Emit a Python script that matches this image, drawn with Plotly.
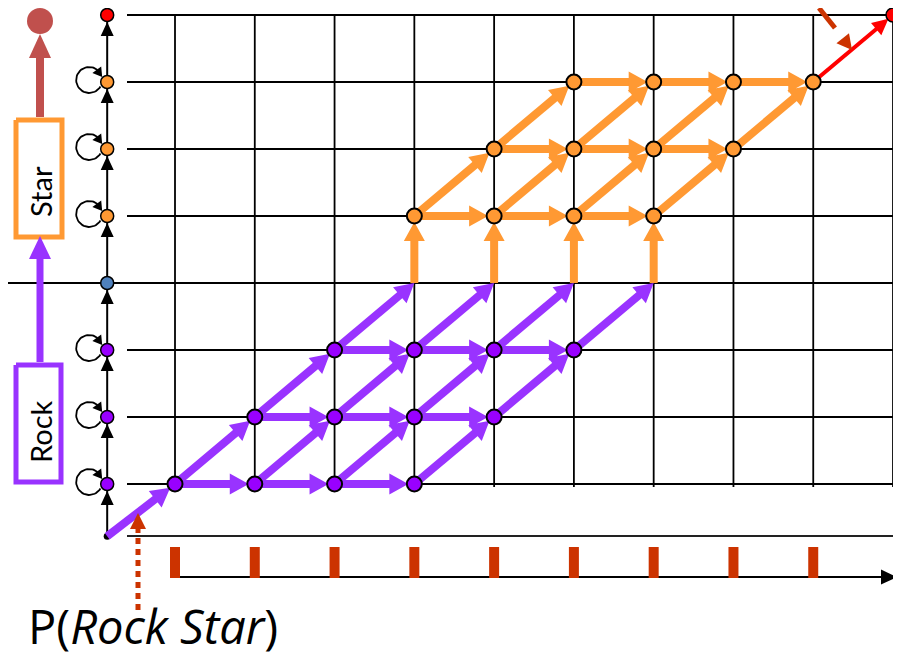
import math
import plotly.graph_objects as go

# ---------------- data ----------------
STEPS = list(range(10))            # time-step columns
STATES = list(range(8))            # state rows (3 = Rock/Star boundary, 7 = end)
AXIS_T = -0.85                     # column of the state axis
START_J = -0.78                    # start point below the first row
AXIS_NODE_KIND = ["rock", "rock", "rock", "boundary", "star", "star", "star", "end"]
LOOP_STATES = [0, 1, 2, 4, 5, 6]
ROCK_NODES = [(0, 0), (1, 0), (2, 0), (3, 0), (1, 1), (2, 1), (3, 1), (4, 1),
              (2, 2), (3, 2), (4, 2), (5, 2)]
STAR_NODES = [(3, 4), (4, 4), (5, 4), (6, 4), (4, 5), (5, 5), (6, 5), (7, 5),
              (5, 6), (6, 6), (7, 6), (8, 6)]
END_NODE = (9, 7)
ROCK_EDGES = [(AXIS_T, START_J, 0, 0),
              (0, 0, 1, 0), (1, 0, 2, 0), (2, 0, 3, 0),
              (1, 1, 2, 1), (2, 1, 3, 1), (3, 1, 4, 1),
              (2, 2, 3, 2), (3, 2, 4, 2), (4, 2, 5, 2),
              (0, 0, 1, 1), (1, 0, 2, 1), (2, 0, 3, 1), (3, 0, 4, 1),
              (1, 1, 2, 2), (2, 1, 3, 2), (3, 1, 4, 2), (4, 1, 5, 2),
              (2, 2, 3, 3), (3, 2, 4, 3), (4, 2, 5, 3), (5, 2, 6, 3)]
STAR_EDGES = [(3, 3, 3, 4), (4, 3, 4, 4), (5, 3, 5, 4), (6, 3, 6, 4),
              (3, 4, 4, 4), (4, 4, 5, 4), (5, 4, 6, 4),
              (4, 5, 5, 5), (5, 5, 6, 5), (6, 5, 7, 5),
              (5, 6, 6, 6), (6, 6, 7, 6), (7, 6, 8, 6),
              (3, 4, 4, 5), (4, 4, 5, 5), (5, 4, 6, 5), (6, 4, 7, 5),
              (4, 5, 5, 6), (5, 5, 6, 6), (6, 5, 7, 6), (7, 5, 8, 6)]
END_EDGES = [(8, 6, 9, 7)]
TICK_STEPS = list(range(9))
LABEL_ROCK = "Rock"
LABEL_STAR = "Star"
FORMULA = "P(<i>Rock Star</i>)"

# ---------------- style ----------------
PURPLE_NODE = "#9900FF"
PURPLE = "#9933FF"
ORANGE = "#FF9933"
BLUE = "#4F81BD"
RED = "#FF0000"
BROWN = "#C0504D"
RUST = "#CC3300"
KIND_COLOR = {"rock": PURPLE_NODE, "boundary": BLUE, "star": ORANGE, "end": RED}
FONT = "Lato"
FORMULA_FONT = "Open Sans"

PAGE_OFF = 8                      # default body margin of the html page
W, H = 901 - PAGE_OFF, 660 - PAGE_OFF
SX, SY = 79.78, 67.0
X0PX, Y0PX = 175.0, 484.0


def to_px(t, j):
    return X0PX + t * SX, Y0PX - j * SY


def to_data(px, py):
    return (px - X0PX) / SX, (Y0PX - py) / SY


fig = go.Figure()


def add_px_line(pts, color, width, dash=None):
    xs, ys = [], []
    for p in pts:
        if p is None:
            xs.append(None); ys.append(None)
        else:
            d = to_data(*p)
            xs.append(d[0]); ys.append(d[1])
    fig.add_trace(go.Scatter(x=xs, y=ys, mode="lines", hoverinfo="skip",
                             line=dict(color=color, width=width, dash=dash)))


class ArrowSet:
    def __init__(self, color, width):
        self.color, self.width = color, width
        self.shaft, self.head = [], []

    def add_px(self, p0, p1, standoff, hl, hw):
        x0, y0 = p0; x1, y1 = p1
        dx, dy = x1 - x0, y1 - y0
        L = math.hypot(dx, dy)
        ux, uy = dx / L, dy / L
        tx, ty = x1 - ux * standoff, y1 - uy * standoff
        bx, by = tx - ux * hl, ty - uy * hl
        nx, ny = -uy, ux
        self.shaft += [(x0, y0), (bx + ux * 3, by + uy * 3), None]
        self.head += [(tx, ty), (bx + nx * hw, by + ny * hw), (bx - nx * hw, by - ny * hw), (tx, ty), None]

    def add(self, t0, j0, t1, j1, standoff, hl, hw):
        self.add_px(to_px(t0, j0), to_px(t1, j1), standoff, hl, hw)

    def draw(self, dash=None):
        if self.shaft:
            add_px_line(self.shaft, self.color, self.width, dash)
        xs, ys = [], []
        for p in self.head:
            if p is None:
                xs.append(None); ys.append(None)
            else:
                d = to_data(*p)
                xs.append(d[0]); ys.append(d[1])
        fig.add_trace(go.Scatter(x=xs, y=ys, mode="none", fill="toself",
                                 fillcolor=self.color, hoverinfo="skip"))


# ---- grid ----
grid = []
for j in STATES:
    xl = 0 if j == 3 else 127
    grid += [(xl, to_px(0, j)[1]), (910, to_px(0, j)[1]), None]
add_px_line(grid, "black", 2)
vgrid = []
for t in STEPS:
    px = to_px(t, 0)[0]
    vgrid += [(px, to_px(0, 7)[1]), (px, to_px(0, 0)[1] + 3), None]
add_px_line(vgrid, "black", 1.8)

# ---- bottom lines & ticks ----
add_px_line([(127, 536), (895, 536)], "#222222", 2)
bottom = ArrowSet("black", 2)
bottom.add_px((to_px(0, 0)[0], 577), (897, 577), 0, 16, 7.5)
bottom.draw()
ticks = []
for t in TICK_STEPS:
    px = to_px(t, 0)[0]
    ticks += [(px, 547), (px, 578), None]
add_px_line(ticks, RUST, 10)

# ---- state axis ----
add_px_line([to_px(AXIS_T, START_J), to_px(AXIS_T, STATES[-1])], "black", 2)
small = ArrowSet("black", 2)
prev = START_J
for j in STATES:
    small.add(AXIS_T, prev, AXIS_T, j, 7, 14, 6.5)
    prev = j
small.shaft = []
small.draw()

# self loops
loops = ArrowSet("black", 1.5)
loop_pts = []
for j in LOOP_STATES:
    nx_, ny_ = to_px(AXIS_T, j)
    cx, cy, r = nx_ - 18, ny_ - 2, 13
    for k in range(0, 41):
        a = math.radians(50 + k * (280 / 40))
        loop_pts.append((cx + r * math.cos(a), cy - r * math.sin(a)))
    loop_pts.append(None)
    tip = (nx_ - 5, ny_ - 5)
    loops.add_px((tip[0] - 0.6 * 9, tip[1] - 0.8 * 9), tip, 0, 9, 5.5)
add_px_line(loop_pts, "black", 1.8)
loops.shaft = []
loops.draw()

# start dot
sd = to_data(*to_px(AXIS_T, START_J))
fig.add_trace(go.Scatter(x=[sd[0]], y=[sd[1]], mode="markers", hoverinfo="skip",
                         marker=dict(color="black", size=7)))

# ---- lattice arrows ----
nodeset = set(ROCK_NODES) | set(STAR_NODES) | {END_NODE}
rock = ArrowSet(PURPLE, 8)
for (t0, j0, t1, j1) in ROCK_EDGES:
    rock.add(t0, j0, t1, j1, 6 if (t1, j1) in nodeset else 0, 19, 10.5)
star = ArrowSet(ORANGE, 8)
for (t0, j0, t1, j1) in STAR_EDGES:
    star.add(t0, j0, t1, j1, 6 if (t1, j1) in nodeset else 0, 19, 10.5)
end = ArrowSet(RED, 4)
for (t0, j0, t1, j1) in END_EDGES:
    end.add(t0, j0, t1, j1, 6, 16, 8)
rock.draw(); star.draw(); end.draw()

# ---- nodes ----
fig.add_trace(go.Scatter(
    x=[AXIS_T] * len(STATES), y=STATES, mode="markers", hoverinfo="skip",
    marker=dict(size=13, color=[KIND_COLOR[k] for k in AXIS_NODE_KIND],
                line=dict(color="black", width=1.5))))
fig.add_trace(go.Scatter(
    x=[p[0] for p in ROCK_NODES], y=[p[1] for p in ROCK_NODES], mode="markers",
    hoverinfo="skip", marker=dict(size=15, color=PURPLE_NODE, line=dict(color="black", width=2))))
fig.add_trace(go.Scatter(
    x=[p[0] for p in STAR_NODES], y=[p[1] for p in STAR_NODES], mode="markers",
    hoverinfo="skip", marker=dict(size=15, color=ORANGE, line=dict(color="black", width=2))))
fig.add_trace(go.Scatter(
    x=[END_NODE[0]], y=[END_NODE[1]], mode="markers", hoverinfo="skip", cliponaxis=False,
    marker=dict(size=14, color=RED, line=dict(color="black", width=1.5))))

# ---- left column (Rock -> Star -> end) ----
add_px_line([(16, 365), (61, 365), (61, 482), (16, 482), (16, 365)], PURPLE, 5)
add_px_line([(16, 120), (62, 120), (62, 237), (16, 237), (16, 120)], ORANGE, 5)
la = ArrowSet(PURPLE, 7)
la.add_px((40, 362), (40, 236), 0, 23, 11)
la.draw()
lb = ArrowSet(BROWN, 8)
lb.add_px((40, 117), (40, 34), 0, 24, 11)
lb.draw()
ed = to_data(40, 21)
fig.add_trace(go.Scatter(x=[ed[0]], y=[ed[1]], mode="markers", hoverinfo="skip",
                         marker=dict(size=26, color=BROWN)))

# ---- pointer arrows ----
pa = ArrowSet(RUST, 5)
pa.add_px((138, 610), (138, 513), 0, 16, 8)
pa.shaft = []
pa.draw()
add_px_line([(138, 610), (138, 529)], RUST, 5, dash="6px,5px")
pb = ArrowSet(RUST, 5)
pb.add_px((819, 8), (852, 50), 0, 15, 8)
pb.shaft = []
pb.draw()
add_px_line([(819, 8), (835, 28)], RUST, 5)

# ---- text ----
annotations = []
for label, py in [(LABEL_ROCK, 432), (LABEL_STAR, 192)]:
    d = to_data(40, py)
    annotations.append(dict(x=d[0], y=d[1], xref="x", yref="y", text=label,
                            showarrow=False, textangle=-90,
                            font=dict(family=FONT, size=29, color="black")))
d = to_data(26, 626)
annotations.append(dict(x=d[0], y=d[1], xref="x", yref="y", text=FORMULA,
                        showarrow=False, xanchor="left", yanchor="middle",
                        font=dict(family=FORMULA_FONT, size=47, color="black")))

xr = [to_data(PAGE_OFF, 0)[0], to_data(PAGE_OFF + W, 0)[0]]
yr = [to_data(0, PAGE_OFF + H)[1], to_data(0, PAGE_OFF)[1]]
fig.update_layout(
    width=W, height=H, margin=dict(l=0, r=0, t=0, b=0),
    paper_bgcolor="white", plot_bgcolor="white", showlegend=False,
    xaxis=dict(range=xr, visible=False, fixedrange=True),
    yaxis=dict(range=yr, visible=False, fixedrange=True),
    annotations=annotations,
)
fig.write_html("out.html")
